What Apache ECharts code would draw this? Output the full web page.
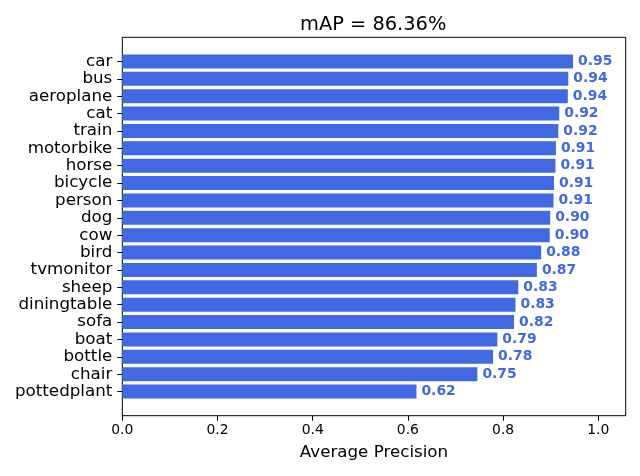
<!DOCTYPE html>
<html>
<head>
<meta charset="utf-8">
<script src="https://cdn.jsdelivr.net/npm/echarts@6/dist/echarts.min.js"></script>
<style>html,body{margin:0;padding:0;background:#fff;}#c{width:640px;height:476px;}</style>
</head>
<body>
<div id="c"></div>
<script>
const categories = ['car','bus','aeroplane','cat','train','motorbike','horse','bicycle','person','dog','cow','bird','tvmonitor','sheep','diningtable','sofa','boat','bottle','chair','pottedplant'];
const apValues = [0.947,0.937,0.936,0.918,0.916,0.911,0.910,0.907,0.906,0.899,0.898,0.880,0.871,0.832,0.826,0.823,0.788,0.779,0.746,0.618];
const xTicks = [0, 0.2, 0.4, 0.6, 0.8, 1.0];
const xMax = 1.0576;
const titleText = 'mAP = 86.36%';
const xName = 'Average Precision';

const FONT = 'DejaVu Sans';
const chart = echarts.init(document.getElementById('c'), null, {renderer: 'canvas'});
const axL = 122.3, axW = 503.4, axT = 37.3, axH = 378.4;
const band = axH / 21.78;
const barTop = axT + 1.39 * band - band / 2;
chart.setOption({
  animation: false,
  backgroundColor: '#fff',
  title: {
    text: titleText,
    left: 300,
    top: 15,
    padding: 0,
    textStyle: {fontFamily: FONT, fontSize: 19.4, fontWeight: 'normal', color: '#000'}
  },
  grid: [
    {left: axL, top: barTop, width: axW, height: band * 20, containLabel: false},
    {left: axL, top: axT, width: axW, height: axH, show: true, borderColor: '#000', borderWidth: 1, backgroundColor: 'transparent', containLabel: false}
  ],
  xAxis: [
    {gridIndex: 0, type: 'value', min: 0, max: xMax, show: false},
    {gridIndex: 1, type: 'value', min: 0, max: xMax, interval: 0.2,
     axisLine: {show: false},
     splitLine: {show: false},
     axisTick: {show: true, length: 5, lineStyle: {color: '#000', width: 1}, customValues: xTicks},
     axisLabel: {fontFamily: FONT, fontSize: 13.9, color: '#000', margin: 8, customValues: xTicks,
                 formatter: v => v.toFixed(1)},
     name: xName, nameLocation: 'middle', nameGap: 28,
     nameTextStyle: {fontFamily: FONT, fontSize: 16.7, color: '#000'}}
  ],
  yAxis: [
    {gridIndex: 0, type: 'category', data: categories, inverse: true,
     axisLine: {show: false},
     axisTick: {show: true, alignWithLabel: true, length: 5, lineStyle: {color: '#000', width: 1}},
     axisLabel: {fontFamily: FONT, fontSize: 16.7, color: '#000', margin: 10, interval: 0},
     splitLine: {show: false}},
    {gridIndex: 1, type: 'value', min: 0, max: 1, show: false}
  ],
  series: [{
    type: 'bar',
    xAxisIndex: 0, yAxisIndex: 0,
    data: apValues,
    barCategoryGap: '20%',
    itemStyle: {color: '#4169E1'},
    label: {show: true, position: 'right', distance: 5, fontFamily: FONT, fontSize: 13.9, fontWeight: 'bold', color: '#4169E1',
            formatter: p => p.value.toFixed(2)}
  }]
});
</script>
</body>
</html>
